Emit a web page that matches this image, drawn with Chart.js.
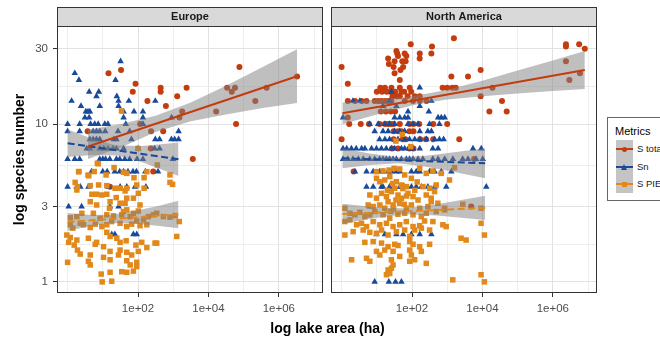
<!DOCTYPE html>
<html><head><meta charset="utf-8">
<script src="https://cdn.jsdelivr.net/npm/chart.js@4.4.1/dist/chart.umd.min.js"></script>
<style>
html,body{margin:0;padding:0;width:660px;height:338px;overflow:hidden;background:#fff;font-family:'Liberation Sans',Arial,sans-serif;}
#c1{position:absolute;left:0;top:0;}
#c2{position:absolute;left:327px;top:0;}
#xtitle{position:absolute;left:0;width:655px;top:319px;text-align:center;font-weight:bold;font-size:14px;line-height:18px;color:#000;}
#legend{position:absolute;left:607px;top:117px;width:72px;height:84px;box-sizing:border-box;border:1px solid #666;background:#fff;}
#legend .lt{position:absolute;left:7px;top:5px;font-size:11px;line-height:16px;color:#000;}
#legend .row{position:absolute;left:8px;width:80px;height:17.5px;}
#legend .key{position:absolute;left:0;top:0;width:17px;height:17.5px;background:#c4c4c4;}
#legend .kl{position:absolute;left:0;top:8px;width:17px;height:2px;}
#legend .lab{position:absolute;left:21px;top:0;font-size:9.5px;line-height:17.5px;color:#1a1a1a;white-space:nowrap;}
</style></head><body>
<canvas id="c1" width="327" height="338"></canvas>
<canvas id="c2" width="274" height="338"></canvas>
<div id="xtitle">log lake area (ha)</div>
<div id="legend">
  <div class="lt">Metrics</div>
  <div class="row" style="top:22px"><div class="key"><div class="kl" style="background:#c43c0e"></div><div style="position:absolute;left:6px;top:6.5px;width:5px;height:5px;border-radius:50%;background:#c43c0e"></div></div><div class="lab">S total</div></div>
  <div class="row" style="top:39.5px"><div class="key"><div class="kl" style="background:#18499a"></div><div style="position:absolute;left:5px;top:6px;width:0;height:0;border-left:3.5px solid transparent;border-right:3.5px solid transparent;border-bottom:6px solid #18499a"></div></div><div class="lab">Sn</div></div>
  <div class="row" style="top:57px"><div class="key"><div class="kl" style="background:#e2891c"></div><div style="position:absolute;left:6px;top:6.5px;width:5px;height:5px;background:#e2891c"></div></div><div class="lab">S PIE</div></div>
</div>
<script>
// ---------- data: [lake area (ha), species number] ----------
const euTotal = [[3.7,9],[14.5,21],[16,4],[33,22],[71,16],[85,18],[115,10],[230,7],[185,14],[235,9],[270,5],[440,17],[440,16],[520,9],[620,13],[1300,15],[1500,11],[1800,12],[2400,17],[3600,6],[16600,12],[34000,17],[46000,16],[57000,17],[61000,10],[76000,23],[215000,14],[450000,17],[3300000,20]];
const euSn = [[32,25],[1.6,21],[2.1,19],[23,19],[4.1,16],[7.7,16],[6.6,15],[25,15],[1.3,14],[28,14],[55,14],[310,14],[2.4,13],[8.2,13],[28,13],
[3.3,12],[3.8,12],[4.3,12],[39,12],[77,12],[138,12],[3.1,11],[4.1,11],[39,11],[138,11],[900,11],
[1.0,10],[2.2,10],[4.5,10],[5.9,10],[7.4,10],[11.4,10],[14,10],[45,10],[138,10],
[1.0,9],[2.2,9],[5.3,9],[6.6,9],[8.2,9],[11.7,9],[27,9],[58,9],[1420,9],
[4.3,8],[5.3,8],[6.6,8],[8.2,8],[20.5,8],[24.4,8],[65,8],[310,8],[410,8],[890,8],[1100,8],[1420,8],
[3.5,7],[4.3,7],[8.2,7],[10.7,7],[14,7],[19.6,7],[24.4,7],[39,7],[100,7],[297,7],[410,7],
[1.0,6],[1.6,6],[2.2,6],[8.2,6],[10,6],[12,6],[15.8,6],[24.4,6],[30.3,6],[42,6],[58,6],[94,6],[138,6],[980,6],
[4.8,5],[10,5],[13.3,5],[21.9,5],[30.3,5],[39,5],[52,5],[72,5],[90,5],[162,5],[370,5],
[1.0,4],[1.8,4],[2.3,4],[3.9,4],[14.5,4],[31,4],[48,4],[82,4],[168,4],
[1.07,3],[2.5,3],[16,3],[28,3],[18,2],[22,2],[74,2],[92,2]];
const euPie = [[7.0,5.64],[20.9,5.3],[355,5.5],[2.05,4.99],[5.7,5.0],[38.5,4.95],[48,4.87],[178,4.99],[4.0,4.7],[12.4,4.76],[77,4.57],[149,4.57],[810,4.76],[960,4.15],[810,4.27],
[1.64,4.27],[1.91,4.01],[4.4,4.07],[7.6,4.11],[13,4.07],[22.3,3.92],[31,3.92],[48,3.92],[92,4.11],[149,3.92],
[1.83,3.82],[4.9,3.59],[6.7,3.59],[9.4,3.55],[13,3.59],[24,3.42],[43,3.77],[48,3.39],[74,3.39],[102,3.64],
[4.4,3.22],[6.7,3.07],[16.1,3.22],[15.5,2.93],[31,3.15],[43,3.15],[114,3.07],
[1.19,2.55],[1.83,2.59],[2.54,2.72],[5.4,2.72],[8.4,2.53],[13,2.66],[20,2.62],[34.5,2.66],[38.5,2.79],[48,2.86],[60,2.59],[74,2.72],[102,2.81],[143,2.47],[197,2.59],[275,2.66],[340,2.72],[525,2.59],[810,2.57],[1130,2.63],[1490,2.41],
[1.19,2.30],[1.41,2.19],[2.28,2.35],[2.84,2.30],[4.4,2.21],[6.1,2.32],[9.4,2.24],[13,2.30],[17.9,2.41],[31,2.35],[48,2.24],[66,2.32],[92,2.43],[114,2.27],[178,2.30],
[0.95,1.98],[1.19,1.91],[1.83,1.84],[3.9,1.89],[6.7,1.78],[13,2.06],[16.1,1.94],[25,1.89],[31,1.78],[46,1.82],[87,1.71],[128,1.78],[340,1.76],[1260,1.94],
[1.07,1.78],[1.54,1.71],[1.91,1.59],[2.28,1.50],[4.4,1.48],[6.1,1.73],[10.5,1.67],[16.1,1.56],[27.9,1.48],[31,1.59],[48,1.54],[66,1.48],[102,1.56],[178,1.65],[305,1.76],
[1.0,1.33],[3.9,1.35],[4.4,1.28],[10.5,1.43],[16.1,1.38],[48,1.36],[60,1.28],[92,1.33],[34.5,1.16],[48,1.15],[74,1.17],[92,1.25],[9.0,1.12],[16.1,1.15],[9.6,1.0],[17.9,1.01],
[34,12.1],[7.4,5.6],[2.1,5.0],[3.8,4.75],[100,7.0]];

const naTotal = [[1.0,23],[1.5,18],[1.0,8],[2.2,5],[21,26],[22,24],[30,23],[32,25],[36,29],[40,27],[38,28],[53,25],[66,25],[56,23],[47,22],[32,21],[45,19],[62,28],[69,27],[92,32],[165,26],[166,28],[355,28],[370,31],[1550,35],
[12.6,17],[17,17],[26,17],[45,17],[86,17],[740,17],[1000,17],[1400,17],[1750,17],[19300,17],[1310,20],[3900,20],[8900,22],
[36,15],[45,15],[120,15],[166,15],[8900,15],[10,16],[14,16],[19,16],[24,16],[28,15],[33,16],[38,15],[50,16],[60,16],[75,15],[95,16],
[1.5,14],[2.4,14],[3.7,14],[5.1,14],[8.7,14],[11,14],[13.5,14],[17,14],[21,14],[26,14],[62,14],[107,14],[166,14],[257,14],[36000,14],
[13,12],[18,12],[25,12],[33,12],[15800,12],[49000,12],[1.5,11],
[1.65,10],[3.5,10],[6,10],[12,10],[17,10],[21,10],[25,10],[30,10],[45,10],[85,10],[110,10],[160,10],[400,10],[1000,10],
[30,9],[40,9],[50,9],[85,9],[110,9],[2200,8],[30,8],[55,8],[65,8],[170,8],[250,8],[400,8],[27,7],[40,7],[85,7],[110,7],[5800,6],[4800,3],
[2360000,32],[2360000,31],[5600000,32],[8100000,30],[2360000,25],[2950000,19],[5900000,21]];
const naSn = [[166,17],[26,16],[2.1,14],[3.3,14],[23,14],[355,14],[15,13],[36,13],[166,13],[77,12],[300,12],
[1.1,11],[32,11],[45,11],[62,11],[77,11],[550,11],[680,11],[850,11],
[6.3,10],[11,10],[17,10],[23,10],[32,10],[77,10],[107,10],[148,10],[316,10],[600,10],
[8.7,9],[15,9],[21,9],[32,9],[45,9],[62,9],[166,9],[282,9],[355,9],
[12,8],[17,8],[23,8],[40,8],[62,8],[85,8],[120,8],[166,8],[257,8],[440,8],[600,8],[790,8],
[1.1,7],[1.4,7],[1.9,7],[2.6,7],[3.7,7],[4.6,7],[7.1,7],[9.8,7],[13.5,7],[18.6,7],[26,7],[32,7],[50,7],[62,7],[85,7],[107,7],[166,7],[390,7],[550,7],[5400,7],[9300,7],
[1.1,6],[1.5,6],[2.1,6],[3.0,6],[4.1,6],[6.3,6],[8.7,6],[12,6],[15,6],[18.6,6],[23,6],[29,6],[36,6],[50,6],[69,6],[85,6],[107,6],[148,6],[204,6],[390,6],[550,6],[850,6],[1450,6],[2750,6],[3900,6],[6600,6],[10200,6],
[2.4,5],[5.1,5],[7.9,5],[12,5],[15,5],[21,5],[26,5],[36,5],[45,5],[96,5],[132,5],[166,5],[316,5],[440,5],[680,5],[1310,5],
[5.1,4],[7.9,4],[13.5,4],[15,4],[23,4],[45,4],[50,4],[62,4],[96,4],[132,4],[185,4],[282,4],[440,4],[940,4],[12900,4],
[6.3,3],[9.8,2],[17,2],[36,2],[56,2],[96,2],[166,2],[355,2],[8.7,1],[22,1],[34,1],[50,1]];
const naPie = [[9.8,4.99],[15.1,5.04],[22.4,5.11],[31,5.24],[44.8,5.19],[62,4.76],[96,4.53],[165,5.24],[254,4.87],[392,5.04],[675,4.87],[1610,5.29],[1160,4.42],
[9.8,4.53],[12.2,4.31],[16.8,4.42],[23.3,4.64],[36,4.31],[50,4.11],[69,4.01],[204,4.01],[316,3.92],[437,3.73],[487,4.11],
[6.34,3.55],[9.8,3.39],[13.6,3.64],[18.8,3.47],[26,3.73],[32.3,3.92],[40,3.55],[50,3.39],[77,3.64],[107,3.47],[148,3.30],[254,3.55],[352,3.39],[543,3.15],[839,2.93],
[5.69,3.07],[7.88,3.00],[12.2,3.07],[16.8,2.93],[20.9,3.22],[29,3.07],[44.8,3.15],[69,2.93],[96,3.07],[165,2.93],[283,3.00],[352,3.22],
[1.24,2.93],[1.72,2.72],[2.38,2.66],[3.30,2.76],[4.57,2.59],[6.34,2.66],[8.79,2.79],[15.1,2.66],[23.3,2.53],[40,2.68],[62,2.72],[107,2.66],[184,2.59],[254,2.72],[487,2.79],[839,2.86],[2770,3.10],[9160,2.93],[9160,2.35],
[1.24,2.41],[1.72,2.47],[2.66,2.30],[3.68,2.35],[5.10,2.24],[7.88,2.41],[12.2,2.30],[18.8,2.35],[29,2.24],[44.8,2.30],[69,2.41],[107,2.24],[165,2.27],[228,2.43],[392,2.41],[752,2.30],[935,2.24],
[1.24,1.98],[2.13,2.08],[4.10,2.13],[6.34,2.06],[9.8,2.03],[13.6,2.13],[20.9,1.98],[36,2.08],[62,2.13],[86,1.94],[119,2.13],[184,2.19],[316,2.13],[2480,1.89],[3440,1.84],[11400,1.98],
[4.57,1.78],[7.88,1.80],[13.6,1.76],[20.9,1.67],[32.3,1.73],[40,1.70],[86,1.80],[107,1.73],[165,1.67],[316,1.73],
[9.8,1.56],[12.2,1.48],[16.8,1.59],[29,1.56],[44.8,1.45],[86,1.59],[96,1.48],[184,1.56],
[1.92,1.38],[5.10,1.41],[6.34,1.35],[26,1.38],[29,1.28],[86,1.35],[119,1.38],[254,1.31],
[20.9,1.19],[26,1.22],[18.8,1.11],[23.3,1.13],[1440,1.03],[9160,1.11],[11400,1.00],
[53,8.6],[35,7.8],[92,7.2],[20,3.8],[28,4.2],[35,3.3],[55,3.9],[70,3.5],[120,3.8],[140,4.3],[30,2.9],[60,3.1],[25,2.8]];

// fitted lines and confidence bands
const euTotalFitArea = [3.8, 3300000], euTotalFit = [7.2, 20.1];
const euTotalBandArea = [3.8, 32, 316, 3160, 31600, 316000, 3300000];
const euTotalHi = [9.2, 10.0, 11.3, 13.7, 17.5, 22.7, 29.8];
const euTotalLo = [6.0, 7.1, 8.9, 10.4, 11.5, 12.6, 13.6];
const euSnFitArea = [1, 1410], euSnFit = [7.55, 5.98];
const euSnBandArea = [1, 5, 25, 126, 630, 1410];
const euSnHi = [9.22, 8.06, 7.32, 7.27, 7.49, 7.63];
const euSnLo = [6.18, 6.36, 6.33, 5.74, 5.02, 4.69];
const euPieFitArea = [1, 1410], euPieFit = [2.40, 2.67];
const euPieBandArea = [1, 4, 16, 79, 400, 1410];
const euPieHi = [2.73, 2.66, 2.65, 2.81, 3.04, 3.26];
const euPieLo = [2.10, 2.25, 2.36, 2.34, 2.26, 2.19];

const naTotalFitArea = [1.05, 8100000], naTotalFit = [11.7, 22];
const naTotalBandArea = [1.05, 10, 100, 280, 1000, 10000, 100000, 1000000, 8100000];
const naTotalHi = [13.7, 14.3, 15.0, 15.6, 16.5, 18.8, 21.8, 25.3, 29.0];
const naTotalLo = [9.96, 11.5, 13.1, 13.7, 14.3, 15.0, 15.6, 16.2, 16.7];
const naSnFitArea = [1.05, 12000], naSnFit = [6.07, 5.64];
const naSnBandArea = [1.05, 6.3, 42, 250, 1580, 12000];
const naSnHi = [7.02, 6.50, 6.16, 6.30, 6.62, 7.02];
const naSnLo = [5.24, 5.50, 5.64, 5.37, 4.96, 4.53];
const naPieFitArea = [1.05, 12000], naPieFit = [2.69, 2.94];
const naPieBandArea = [1.05, 7.9, 65, 500, 2500, 12000];
const naPieHi = [3.12, 2.98, 2.92, 3.10, 3.30, 3.51];
const naPieLo = [2.33, 2.53, 2.68, 2.63, 2.55, 2.47];

const xTickValues = [1, 10, 100, 1000, 10000, 100000, 1000000, 10000000];
const xTickLabels = {100: '1e+02', 10000: '1e+04', 1000000: '1e+06'};
const yTickValues = [1, 1.73, 3, 5.48, 10, 17.3, 30];
const yTickLabels = {1: '1', 3: '3', 10: '10', 30: '30'};

// ---------- drawing ----------
const FONT = "'Liberation Sans', Arial, sans-serif";
const RED = '#c43c0e', BLUE = '#18499a', ORANGE = '#e2891c';
const BAND = 'rgba(128,128,128,0.5)';
const NONE = 'rgba(0,0,0,0)';

const pts = a => a.map(p => ({x: p[0], y: p[1]}));
const zip = (a, b) => a.map((v, i) => ({x: v, y: b[i]}));

function pointSet(label, data, color, style, r, order) {
  return {label, data: pts(data), showLine: false, pointStyle: style, pointRadius: r,
    pointBackgroundColor: color, pointBorderColor: color, pointBorderWidth: 0, backgroundColor: color, order};
}
function bandSets(area, hi, lo) {
  return [
    {data: zip(area, hi), showLine: true, pointRadius: 0, borderWidth: 0, borderColor: NONE, fill: false, order: 5},
    {data: zip(area, lo), showLine: true, pointRadius: 0, borderWidth: 0, borderColor: NONE, fill: '-1', backgroundColor: BAND, order: 5}
  ];
}
function lineSet(area, vals, color, dash) {
  return {data: zip(area, vals), showLine: true, pointRadius: 0, borderColor: color, borderWidth: 2, borderDash: dash, fill: false, order: 1};
}

const panelPlugin = {
  id: 'panel',
  afterDraw(chart, args, opts) {
    const {ctx, chartArea: a} = chart;
    const top = 7;
    ctx.save();
    ctx.fillStyle = '#d9d9d9';
    ctx.fillRect(a.left, top, a.right - a.left, a.top - top);
    ctx.strokeStyle = '#333333';
    ctx.lineWidth = 1;
    ctx.strokeRect(a.left + 0.5, top + 0.5, a.right - a.left - 1, a.top - top);
    ctx.strokeRect(a.left + 0.5, a.top + 0.5, a.right - a.left - 1, a.bottom - a.top - 1);
    ctx.fillStyle = '#1a1a1a';
    ctx.font = 'bold 11px ' + FONT;
    ctx.textAlign = 'center';
    ctx.textBaseline = 'middle';
    ctx.fillText(opts.text, (a.left + a.right) / 2, (top + a.top) / 2 + 0.5);
    ctx.restore();
  }
};

function makeChart(id, title, first, total, sn, pie, fits) {
  const isMajorX = v => xTickLabels[v] !== undefined;
  const isMajorY = v => yTickLabels[v] !== undefined;
  const datasets = [
    pointSet('S total', total, RED, 'circle', 3, 12),
    pointSet('Sn', sn, BLUE, 'triangle', 3.8, 11),
    pointSet('S PIE', pie, ORANGE, 'rect', 3.9, 10),
    ...bandSets(fits.tA, fits.tH, fits.tL),
    ...bandSets(fits.sA, fits.sH, fits.sL),
    ...bandSets(fits.pA, fits.pH, fits.pL),
    lineSet(fits.tfA, fits.tf, RED, []),
    lineSet(fits.sfA, fits.sf, BLUE, [7, 3.5]),
    lineSet(fits.pfA, fits.pf, ORANGE, [7, 3.5])
  ];
  return new Chart(document.getElementById(id), {
    type: 'scatter',
    data: {datasets},
    plugins: [panelPlugin],
    options: {
      responsive: false, animation: false, events: [],
      layout: {padding: {left: first ? 7 : 0, right: 3, top: 26, bottom: 0}},
      plugins: {legend: {display: false}, tooltip: {enabled: false}, panel: {text: title}},
      scales: {
        x: {
          type: 'logarithmic', min: 0.5, max: 1.8e7,
          afterBuildTicks: s => { s.ticks = xTickValues.map(v => ({value: v})); },
          afterFit: s => { s.height = 45; },
          border: {display: false},
          grid: {
            color: c => (c.tick && isMajorX(c.tick.value)) ? '#e2e2e2' : '#eeeeee',
            lineWidth: 1, drawTicks: true, tickLength: 4, tickWidth: 1,
            tickColor: c => (c.tick && isMajorX(c.tick.value)) ? '#333333' : NONE
          },
          ticks: {autoSkip: false, maxRotation: 0, padding: 5, color: '#4d4d4d',
            font: {family: FONT, size: 11.5}, callback: v => xTickLabels[v] || ''}
        },
        y: {
          type: 'logarithmic', min: 0.85, max: 41.8,
          afterBuildTicks: s => { s.ticks = yTickValues.map(v => ({value: v})); },
          afterFit: s => { s.width = first ? 50 : 3; },
          border: {display: false},
          grid: {
            color: c => (c.tick && isMajorY(c.tick.value)) ? '#e2e2e2' : '#eeeeee',
            lineWidth: 1, drawTicks: first, tickLength: 4, tickWidth: 1,
            tickColor: c => (c.tick && isMajorY(c.tick.value)) ? '#333333' : NONE
          },
          ticks: {display: first, autoSkip: false, padding: 5, color: '#4d4d4d',
            font: {family: FONT, size: 11.5}, callback: v => yTickLabels[v] || ''},
          title: {display: first, text: 'log species number', color: '#000',
            font: {family: FONT, size: 14, weight: 'bold'}, padding: {top: 5, bottom: 0}}
        }
      }
    }
  });
}

makeChart('c1', 'Europe', true, euTotal, euSn, euPie, {
  tA: euTotalBandArea, tH: euTotalHi, tL: euTotalLo, tfA: euTotalFitArea, tf: euTotalFit,
  sA: euSnBandArea, sH: euSnHi, sL: euSnLo, sfA: euSnFitArea, sf: euSnFit,
  pA: euPieBandArea, pH: euPieHi, pL: euPieLo, pfA: euPieFitArea, pf: euPieFit
});
makeChart('c2', 'North America', false, naTotal, naSn, naPie, {
  tA: naTotalBandArea, tH: naTotalHi, tL: naTotalLo, tfA: naTotalFitArea, tf: naTotalFit,
  sA: naSnBandArea, sH: naSnHi, sL: naSnLo, sfA: naSnFitArea, sf: naSnFit,
  pA: naPieBandArea, pH: naPieHi, pL: naPieLo, pfA: naPieFitArea, pf: naPieFit
});
</script>
</body></html>
